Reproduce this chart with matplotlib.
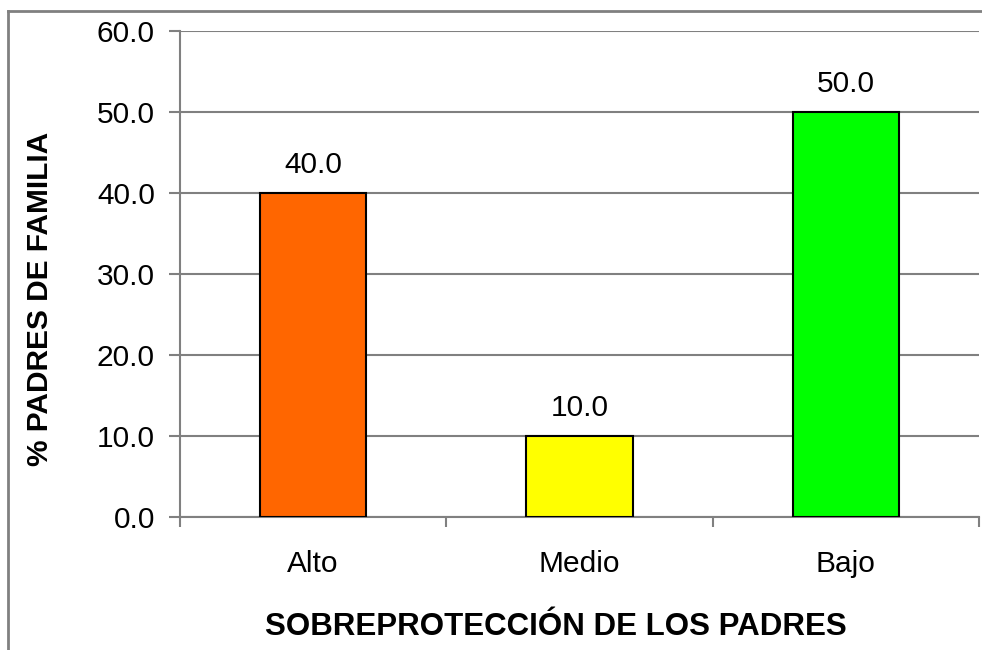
import numpy as np
import matplotlib.pyplot as plt
from matplotlib.lines import Line2D

# datos
categorias = ['Alto', 'Medio', 'Bajo']
porcentajes = [40.0, 10.0, 50.0]
colores = ['#FF6600', '#FFFF00', '#00FF00']

plt.rcParams['font.family'] = ['Liberation Sans', 'DejaVu Sans']

fig = plt.figure(figsize=(9.82, 6.5), dpi=100)
ax = fig.add_axes([180 / 982, 1 - 517 / 650, 799 / 982, 486 / 650])

x = np.arange(len(categorias))
barras = ax.bar(x, porcentajes, width=0.4, color=colores, edgecolor='black', linewidth=1.5, zorder=3)

# etiquetas de valores
for b, v in zip(barras, porcentajes):
    ax.annotate(f'{v:.1f}', (b.get_x() + b.get_width() / 2, v), xytext=(0, 10),
                textcoords='offset points', ha='center', va='bottom', fontsize=21.5)

ax.set_xlim(-0.5, 2.5)
ax.set_ylim(0, 60)
ax.set_yticks(np.arange(0, 61, 10))
ax.set_yticklabels([f'{t:.1f}' for t in np.arange(0, 61, 10)], fontsize=21.5)
ax.set_xticks(x)
ax.set_xticklabels(categorias, fontsize=21.5)
ax.tick_params(axis='x', length=0, pad=24)
ax.set_xticks([-0.5, 0.5, 1.5, 2.5], minor=True)
ax.tick_params(axis='x', which='minor', length=7.5, width=1.5, color='#808080', direction='out')
ax.tick_params(axis='y', length=8, width=1.5, color='#808080', direction='out', pad=10)

ax.grid(axis='y', color='#808080', linewidth=1.5, zorder=0)
for s in ['top', 'right']:
    ax.spines[s].set_visible(False)
for s in ['left', 'bottom']:
    ax.spines[s].set_color('#808080')
    ax.spines[s].set_linewidth(1.5)

ax.set_xlabel('SOBREPROTECCIÓN DE LOS PADRES', fontsize=22.5, fontweight='bold', va='center')
ax.set_ylabel('% PADRES DE FAMILIA', fontsize=21.5, fontweight='bold', va='center')
ax.xaxis.set_label_coords((556 - 180) / 799, (517 - 627) / 486)
ax.yaxis.set_label_coords((40 - 180) / 799, (517 - 299) / 486)

# borde del gráfico
fig.add_artist(Line2D([8 / 982, 8 / 982], [0, 1 - 11 / 650], color='#808080', linewidth=2))
fig.add_artist(Line2D([8 / 982, 1], [1 - 11 / 650, 1 - 11 / 650], color='#808080', linewidth=2))

fig.savefig('out.png', dpi=100)
